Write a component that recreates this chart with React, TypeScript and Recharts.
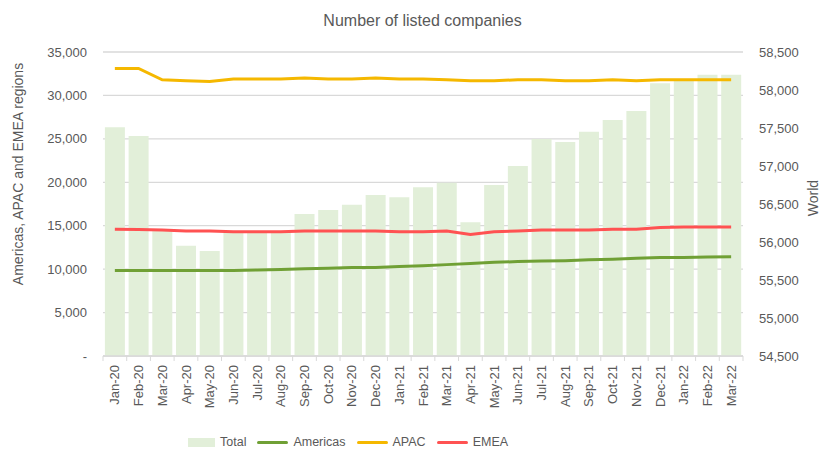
import { Bar, CartesianGrid, ComposedChart, Line, XAxis, YAxis } from 'recharts'

const months = [
  'Jan-20', 'Feb-20', 'Mar-20', 'Apr-20', 'May-20', 'Jun-20', 'Jul-20', 'Aug-20', 'Sep-20',
  'Oct-20', 'Nov-20', 'Dec-20', 'Jan-21', 'Feb-21', 'Mar-21', 'Apr-21', 'May-21', 'Jun-21',
  'Jul-21', 'Aug-21', 'Sep-21', 'Oct-21', 'Nov-21', 'Dec-21', 'Jan-22', 'Feb-22', 'Mar-22',
]

// World total (right axis)
const total = [
  57510, 57395, 56160, 55950, 55880, 56130, 56130, 56130, 56370,
  56420, 56490, 56620, 56590, 56720, 56780, 56260, 56750, 57000,
  57355, 57315, 57450, 57605, 57725, 58090, 58130, 58200, 58200,
]

const americas = [
  9850, 9850, 9850, 9850, 9850, 9850, 9900, 9950, 10050,
  10100, 10200, 10200, 10300, 10390, 10520, 10650, 10780, 10870,
  10950, 10980, 11070, 11150, 11260, 11330, 11330, 11400, 11440,
]

const apac = [
  33100, 33100, 31800, 31700, 31600, 31900, 31900, 31900, 32000,
  31900, 31900, 32000, 31900, 31900, 31800, 31700, 31700, 31800,
  31800, 31700, 31700, 31800, 31700, 31800, 31800, 31800, 31800,
]

const emea = [
  14580, 14550, 14500, 14400, 14400, 14300, 14300, 14300, 14400,
  14400, 14400, 14400, 14300, 14300, 14400, 14000, 14300, 14400,
  14500, 14500, 14500, 14600, 14600, 14800, 14850, 14850, 14850,
]

const leftTicks = [0, 5000, 10000, 15000, 20000, 25000, 30000, 35000]
const rightTicks = [54500, 55000, 55500, 56000, 56500, 57000, 57500, 58000, 58500]

const data = months.map((m, i) => ({
  month: m,
  Total: total[i],
  Americas: americas[i],
  APAC: apac[i],
  EMEA: emea[i],
}))

const W = 837
const H = 458
const LEFT_W = 103
const RIGHT_W = 94
const STEP = (W - LEFT_W - RIGHT_W) / months.length

const grey = '#595959'
const font = '"Liberation Sans", Arial, sans-serif'

const legendItems = [
  { name: 'Total', color: '#e2efd9', kind: 'rect' },
  { name: 'Americas', color: '#70a035', kind: 'line' },
  { name: 'APAC', color: '#f5b800', kind: 'line' },
  { name: 'EMEA', color: '#ff5252', kind: 'line' },
]

const fmt = (v: number) => (v === 0 ? '-' : v.toLocaleString('en-US'))

function MonthTick(props: any) {
  const { x, y, payload, index } = props
  return (
    <g>
      <line x1={x - STEP / 2} x2={x - STEP / 2} y1={y - 6} y2={y - 1} stroke="#d9d9d9" />
      {index === months.length - 1 && (
        <line x1={x + STEP / 2} x2={x + STEP / 2} y1={y - 6} y2={y - 1} stroke="#d9d9d9" />
      )}
      <g transform={`translate(${x},${y + 3})`}>
        <text transform="rotate(-90)" textAnchor="end" dy="0.35em" fill={grey} fontSize={13} fontFamily={font}>
          {payload.value}
        </text>
      </g>
    </g>
  )
}

export default function App() {
  return (
    <div style={{ position: 'absolute', left: 0, top: 0, width: W, height: H, background: '#fff', fontFamily: font }}>
      <div style={{ position: 'absolute', top: 12, left: 0, width: W, textAlign: 'center', fontSize: 16, color: grey }}>
        <span style={{ marginLeft: 8 }}>Number of listed companies</span>
      </div>
      <div style={{ position: 'absolute', left: 18, top: 174, width: 0, height: 0 }}>
        <div style={{ position: 'absolute', transform: 'translate(-50%,-50%) rotate(-90deg)', whiteSpace: 'nowrap', fontSize: 14, color: grey }}>
          Americas, APAC and EMEA regions
        </div>
      </div>
      <div style={{ position: 'absolute', left: 813, top: 198, width: 0, height: 0 }}>
        <div style={{ position: 'absolute', transform: 'translate(-50%,-50%) rotate(-90deg)', whiteSpace: 'nowrap', fontSize: 14, color: grey }}>
          World
        </div>
      </div>
      <ComposedChart
        width={W}
        height={H}
        data={data}
        margin={{ top: 52, right: 0, bottom: 42, left: 0 }}
        barCategoryGap="8%"
      >
        <CartesianGrid vertical={false} yAxisId="left" stroke="#d9d9d9" strokeWidth={1.3} />
        <XAxis
          dataKey="month"
          height={60}
          interval={0}
          tickSize={0}
          tickMargin={6}
          tick={<MonthTick />}
          axisLine={{ stroke: '#d9d9d9', strokeWidth: 1.3 }}
          tickLine={false}
        />
        <YAxis
          yAxisId="left"
          width={LEFT_W}
          domain={[0, 35000]}
          ticks={leftTicks}
          tickFormatter={fmt}
          axisLine={false}
          tickLine={false}
          tickMargin={10}
          tick={{ fill: grey, fontSize: 13, fontFamily: font }}
        />
        <YAxis
          yAxisId="right"
          orientation="right"
          width={RIGHT_W}
          domain={[54500, 58500]}
          ticks={rightTicks}
          tickFormatter={fmt}
          axisLine={false}
          tickLine={false}
          tickMargin={10}
          tick={{ fill: grey, fontSize: 13, fontFamily: font, textAnchor: 'start' }}
        />
        <Bar yAxisId="right" dataKey="Total" fill="#e2efd9" isAnimationActive={false} />
        <Line yAxisId="left" type="linear" dataKey="Americas" stroke="#70a035" strokeWidth={3} dot={false} isAnimationActive={false} />
        <Line yAxisId="left" type="linear" dataKey="APAC" stroke="#f5b800" strokeWidth={3} dot={false} isAnimationActive={false} />
        <Line yAxisId="left" type="linear" dataKey="EMEA" stroke="#ff5252" strokeWidth={3} dot={false} isAnimationActive={false} />
      </ComposedChart>
      <div
        style={{
          position: 'absolute', top: 435, left: 188, display: 'flex', alignItems: 'center', fontSize: 12.5, color: grey,
        }}
      >
        {legendItems.map((it) => (
          <div key={it.name} style={{ display: 'flex', alignItems: 'center', marginRight: 11 }}>
            {it.kind === 'rect' ? (
              <div style={{ width: 27, height: 9, background: it.color, marginRight: 5 }} />
            ) : (
              <div style={{ width: 31, height: 3, borderRadius: 2, background: it.color, marginRight: 5 }} />
            )}
            <span>{it.name}</span>
          </div>
        ))}
      </div>
    </div>
  )
}
